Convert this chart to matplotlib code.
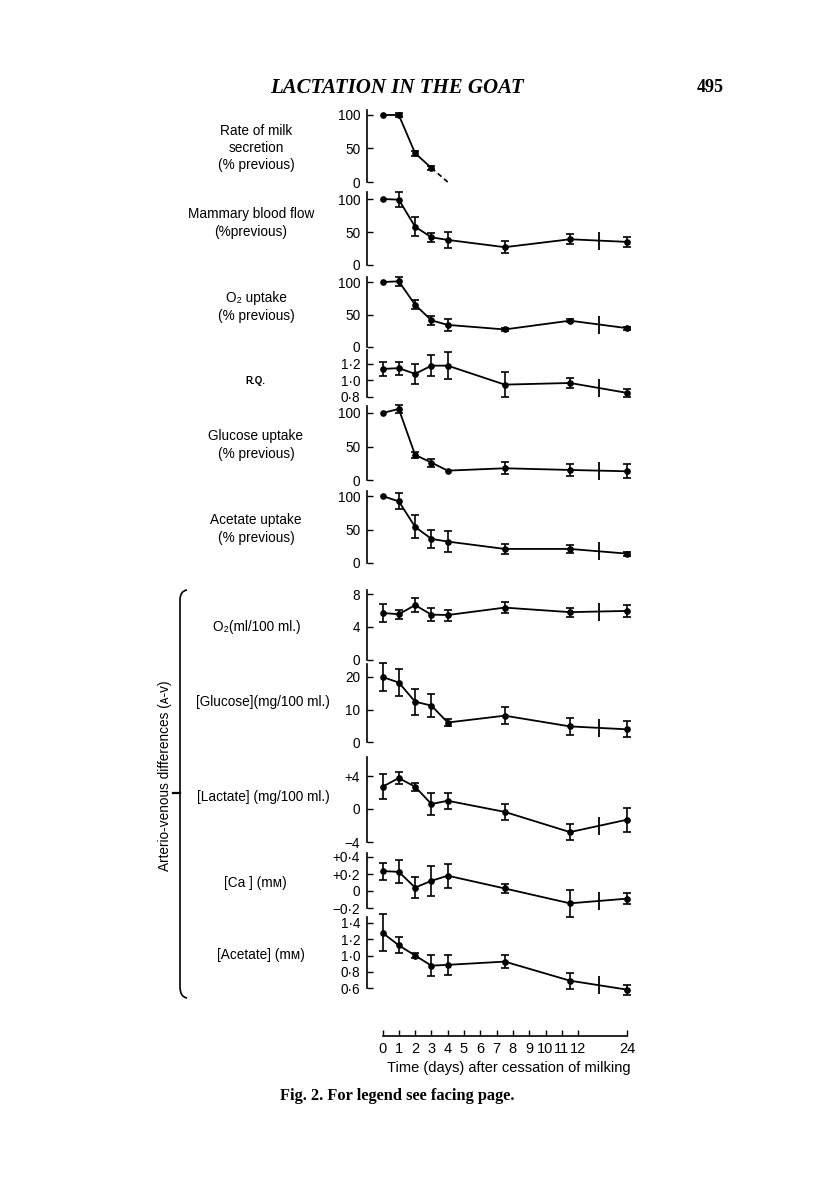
import numpy as np
import matplotlib.pyplot as plt
from matplotlib.path import Path
from matplotlib.patches import PathPatch

plt.rcParams['font.family'] = ['Liberation Sans', 'DejaVu Sans']

# ---- data ----
days = [0, 1, 2, 3, 4, 7.5, 11.5, 24]
break_day = 17.2

milk_days = [0, 1, 2, 3]
milk = [100, 100, 43, 21]
milk_err = [0, 3, 4, 3]
milk_tail_days = [3, 4]
milk_tail = [21, 0]

blood_flow = [100, 99, 58, 42, 38, 27, 39, 35]
blood_flow_err = [0, 11, 14, 7, 12, 9, 7.5, 7.5]

o2_uptake = [100, 101, 65, 41, 34, 27, 40.5, 29]
o2_uptake_err = [0, 6.5, 7, 7, 9, 3, 2.5, 2.5]

rq = [1.14, 1.15, 1.08, 1.18, 1.18, 0.95, 0.97, 0.85]
rq_err = [0.09, 0.08, 0.12, 0.13, 0.16, 0.15, 0.065, 0.05]

glucose_uptake = [100, 106, 37.5, 26, 14, 17.5, 15, 13]
glucose_uptake_err = [0, 6, 4, 6, 0, 9, 9.5, 10.5]

acetate_uptake = [100, 92, 54, 36, 32, 21, 21, 14]
acetate_uptake_err = [0, 12, 17, 13, 15.5, 7, 5.5, 3]

av_o2 = [5.7, 5.55, 6.65, 5.5, 5.45, 6.35, 5.8, 5.95]
av_o2_err = [1.1, 0.57, 0.85, 0.75, 0.67, 0.65, 0.55, 0.75]

av_glucose = [20, 18.3, 12.4, 11.2, 6.0, 8.1, 4.8, 3.9]
av_glucose_err = [4.2, 4.1, 4.0, 3.6, 1.0, 2.7, 2.7, 2.5]

av_lactate = [2.7, 3.75, 2.7, 0.6, 1.0, -0.35, -2.8, -1.3]
av_lactate_err = [1.5, 0.7, 0.5, 1.3, 0.95, 0.95, 0.93, 1.43]

av_ca = [0.235, 0.225, 0.04, 0.12, 0.18, 0.03, -0.145, -0.09]
av_ca_err = [0.1, 0.135, 0.12, 0.18, 0.14, 0.056, 0.155, 0.068]

av_acetate = [1.28, 1.125, 1.0, 0.875, 0.885, 0.925, 0.69, 0.58]
av_acetate_err = [0.23, 0.1, 0.03, 0.13, 0.12, 0.078, 0.1, 0.06]

x_ticks = [0, 1, 2, 3, 4, 5, 6, 7, 8, 9, 10, 11, 12, 24]

# ---- layout (pixels on an 816 x 1181 page) ----
W, H = 816, 1181
fig = plt.figure(figsize=(W / 100, H / 100), dpi=100)
fig.patch.set_facecolor('white')

X0, PX = 382.5, 16.3          # pixel of day 0, pixels per scaled unit
XL, XR = -0.95, 15.5          # scaled x range of every panel


def fwd(x):
    x = np.asarray(x, dtype=float)
    return np.where(x <= 12, x, 12 + (x - 12) / 4)


def inv(y):
    y = np.asarray(y, dtype=float)
    return np.where(y <= 12, y, 12 + (y - 12) * 4)


def make_axes(v1, p1, v2, p2, ylo, yhi):
    """axes whose data v1/v2 fall on page rows p1/p2, spine from ylo to yhi"""
    s = (p1 - p2) / (v2 - v1)
    bottom = p1 + (v1 - ylo) * s
    top = p1 - (yhi - v1) * s
    left = X0 + XL * PX
    right = X0 + XR * PX
    ax = fig.add_axes([left / W, 1 - bottom / H, (right - left) / W, (bottom - top) / H])
    ax.set_xscale('function', functions=(fwd, inv))
    ax.set_xlim(float(inv(XL)), float(inv(XR)))
    ax.set_ylim(ylo, yhi)
    ax.patch.set_alpha(0)
    for side in ['top', 'right', 'bottom']:
        ax.spines[side].set_visible(False)
    ax.spines['left'].set_linewidth(1.2)
    ax.set_xticks([])
    ax.tick_params(axis='y', direction='in', length=4.5, width=1.0, pad=5, labelsize=9.8)
    return ax


def draw_series(ax, x, y, err, with_break=True):
    x = np.asarray(x, float)
    y = np.asarray(y, float)
    err = np.asarray(err, float)
    ax.plot(x, y, '-', color='black', lw=1.3, marker='o', ms=3.8, clip_on=False)
    m = err > 0
    ax.errorbar(x[m], y[m], yerr=err[m], fmt='none', ecolor='black',
                elinewidth=1.2, capsize=3, capthick=1.2, clip_on=False)
    if with_break:
        t = (fwd(break_day) - fwd(x[-2])) / (fwd(x[-1]) - fwd(x[-2]))
        yb = y[-2] + t * (y[-1] - y[-2])
        ax.plot([break_day], [yb], marker='|', ms=13, mew=1.3, color='black', clip_on=False)


def label(x, y, s, size=9.8, **kw):
    fig.text(x / W, 1 - y / H, s, ha='center', va='center', fontsize=size,
             linespacing=1.3, **kw)


# 1 Rate of milk secretion
ax = make_axes(0, 182, 100, 115, 0, 107.5)
ax.set_yticks([0, 50, 100])
draw_series(ax, milk_days, milk, milk_err, with_break=False)
ax.plot(milk_tail_days, milk_tail, '--', color='black', lw=1.2, dashes=(3, 2), clip_on=False)
label(256, 148, 'Rate of milk\nsecretion\n(% previous)')

# 2 Mammary blood flow
ax = make_axes(0, 265, 100, 199, 0, 110)
ax.set_yticks([0, 50, 100])
draw_series(ax, days, blood_flow, blood_flow_err)
label(251, 223, 'Mammary blood flow\n(%previous)')

# 3 O2 uptake
ax = make_axes(0, 347, 100, 282, 0, 108)
ax.set_yticks([0, 50, 100])
draw_series(ax, days, o2_uptake, o2_uptake_err)
label(256, 307, 'O₂ uptake\n(% previous)')

# 4 R.Q.
ax = make_axes(0.8, 397, 1.2, 364, 0.8, 1.37)
ax.set_yticks([0.8, 1.0, 1.2])
ax.set_yticklabels(['0·8', '1·0', '1·2'])
draw_series(ax, days, rq, rq_err)
label(255, 381, 'R.Q.', size=7, fontweight='bold')

# 5 Glucose uptake
ax = make_axes(0, 480, 100, 413, 0, 110)
ax.set_yticks([0, 50, 100])
draw_series(ax, days, glucose_uptake, glucose_uptake_err)
label(256, 445, 'Glucose uptake\n(% previous)')

# 6 Acetate uptake
ax = make_axes(0, 563, 100, 496, 0, 108)
ax.set_yticks([0, 50, 100])
draw_series(ax, days, acetate_uptake, acetate_uptake_err)
label(256, 529, 'Acetate uptake\n(% previous)')

# 7 A-V O2
ax = make_axes(0, 660, 8, 594, 0, 8.5)
ax.set_yticks([0, 4, 8])
draw_series(ax, days, av_o2, av_o2_err)
label(257, 627, 'O₂(ml/100 ml.)')

# 8 A-V glucose
ax = make_axes(0, 742, 20, 677, 0, 24)
ax.set_yticks([0, 10, 20])
draw_series(ax, days, av_glucose, av_glucose_err)
label(263, 702, '[Glucose](mg/100 ml.)')

# 9 A-V lactate
ax = make_axes(-4, 842, 4, 776, -4, 6.3)
ax.set_yticks([-4, 0, 4])
ax.set_yticklabels(['−4', '0', '+4'])
draw_series(ax, days, av_lactate, av_lactate_err)
label(263, 797, '[Lactate] (mg/100 ml.)')

# 10 A-V Ca
ax = make_axes(-0.2, 908, 0.4, 857, -0.2, 0.45)
ax.set_yticks([-0.2, 0, 0.2, 0.4])
ax.set_yticklabels(['−0·2', '0', '+0·2', '+0·4'])
draw_series(ax, days, av_ca, av_ca_err)
label(255, 883, '[Ca ] (mᴍ)')

# 11 A-V acetate
ax = make_axes(0.6, 988, 1.4, 923, 0.6, 1.47)
ax.set_yticks([0.6, 0.8, 1.0, 1.2, 1.4])
ax.set_yticklabels(['0·6', '0·8', '1·0', '1·2', '1·4'])
draw_series(ax, days, av_acetate, av_acetate_err)
label(261, 955, '[Acetate] (mᴍ)')

# ---- time axis ----
left = X0 + XL * PX
right = X0 + XR * PX
axt = fig.add_axes([left / W, 1 - 1036 / H, (right - left) / W, 1 / H])
axt.set_xscale('function', functions=(fwd, inv))
axt.set_xlim(float(inv(XL)), float(inv(XR)))
axt.patch.set_alpha(0)
for side in ['top', 'right', 'left']:
    axt.spines[side].set_visible(False)
axt.spines['bottom'].set_bounds(0, 24)
axt.spines['bottom'].set_linewidth(1.2)
axt.set_yticks([])
axt.set_xticks(x_ticks)
axt.set_xticklabels([str(t) for t in x_ticks])
axt.tick_params(axis='x', direction='in', length=4, width=1.0, pad=4, labelsize=10.5)
label(509, 1068, 'Time (days) after cessation of milking', size=10.5)

# ---- A-V brace and label ----
to_fig = lambda x, y: (x / W, 1 - y / H)
verts = [to_fig(187, 590), to_fig(180, 591), to_fig(180, 600),
         to_fig(180, 987),
         to_fig(180, 997), to_fig(187, 998)]
codes = [Path.MOVETO, Path.CURVE3, Path.CURVE3, Path.LINETO, Path.CURVE3, Path.CURVE3]
fig.add_artist(PathPatch(Path(verts, codes), fill=False, lw=1.2, color='black',
                         transform=fig.transFigure))
fig.add_artist(plt.Line2D([173 / W, 180 / W], [1 - 793 / H, 1 - 793 / H], lw=1.6,
                          color='black', transform=fig.transFigure))
fig.text(165 / W, 1 - 776 / H, 'Arterio-venous differences (ᴀ-ᴠ)', rotation=90,
         ha='center', va='center', fontsize=9.8)

# ---- page furniture ----
fig.text(397 / W, 1 - 88 / H, 'LACTATION IN THE GOAT', ha='center', va='center',
         family='Liberation Serif', style='italic', fontweight='bold', fontsize=15)
fig.text(710 / W, 1 - 88 / H, '495', ha='center', va='center',
         family='Liberation Serif', fontweight='bold', fontsize=13)
fig.text(280 / W, 1 - 1096 / H, 'Fig. 2. For legend see facing page.', ha='left',
         va='center', family='Liberation Serif', fontweight='bold', fontsize=11.8)

fig.savefig('out.png', dpi=100)
